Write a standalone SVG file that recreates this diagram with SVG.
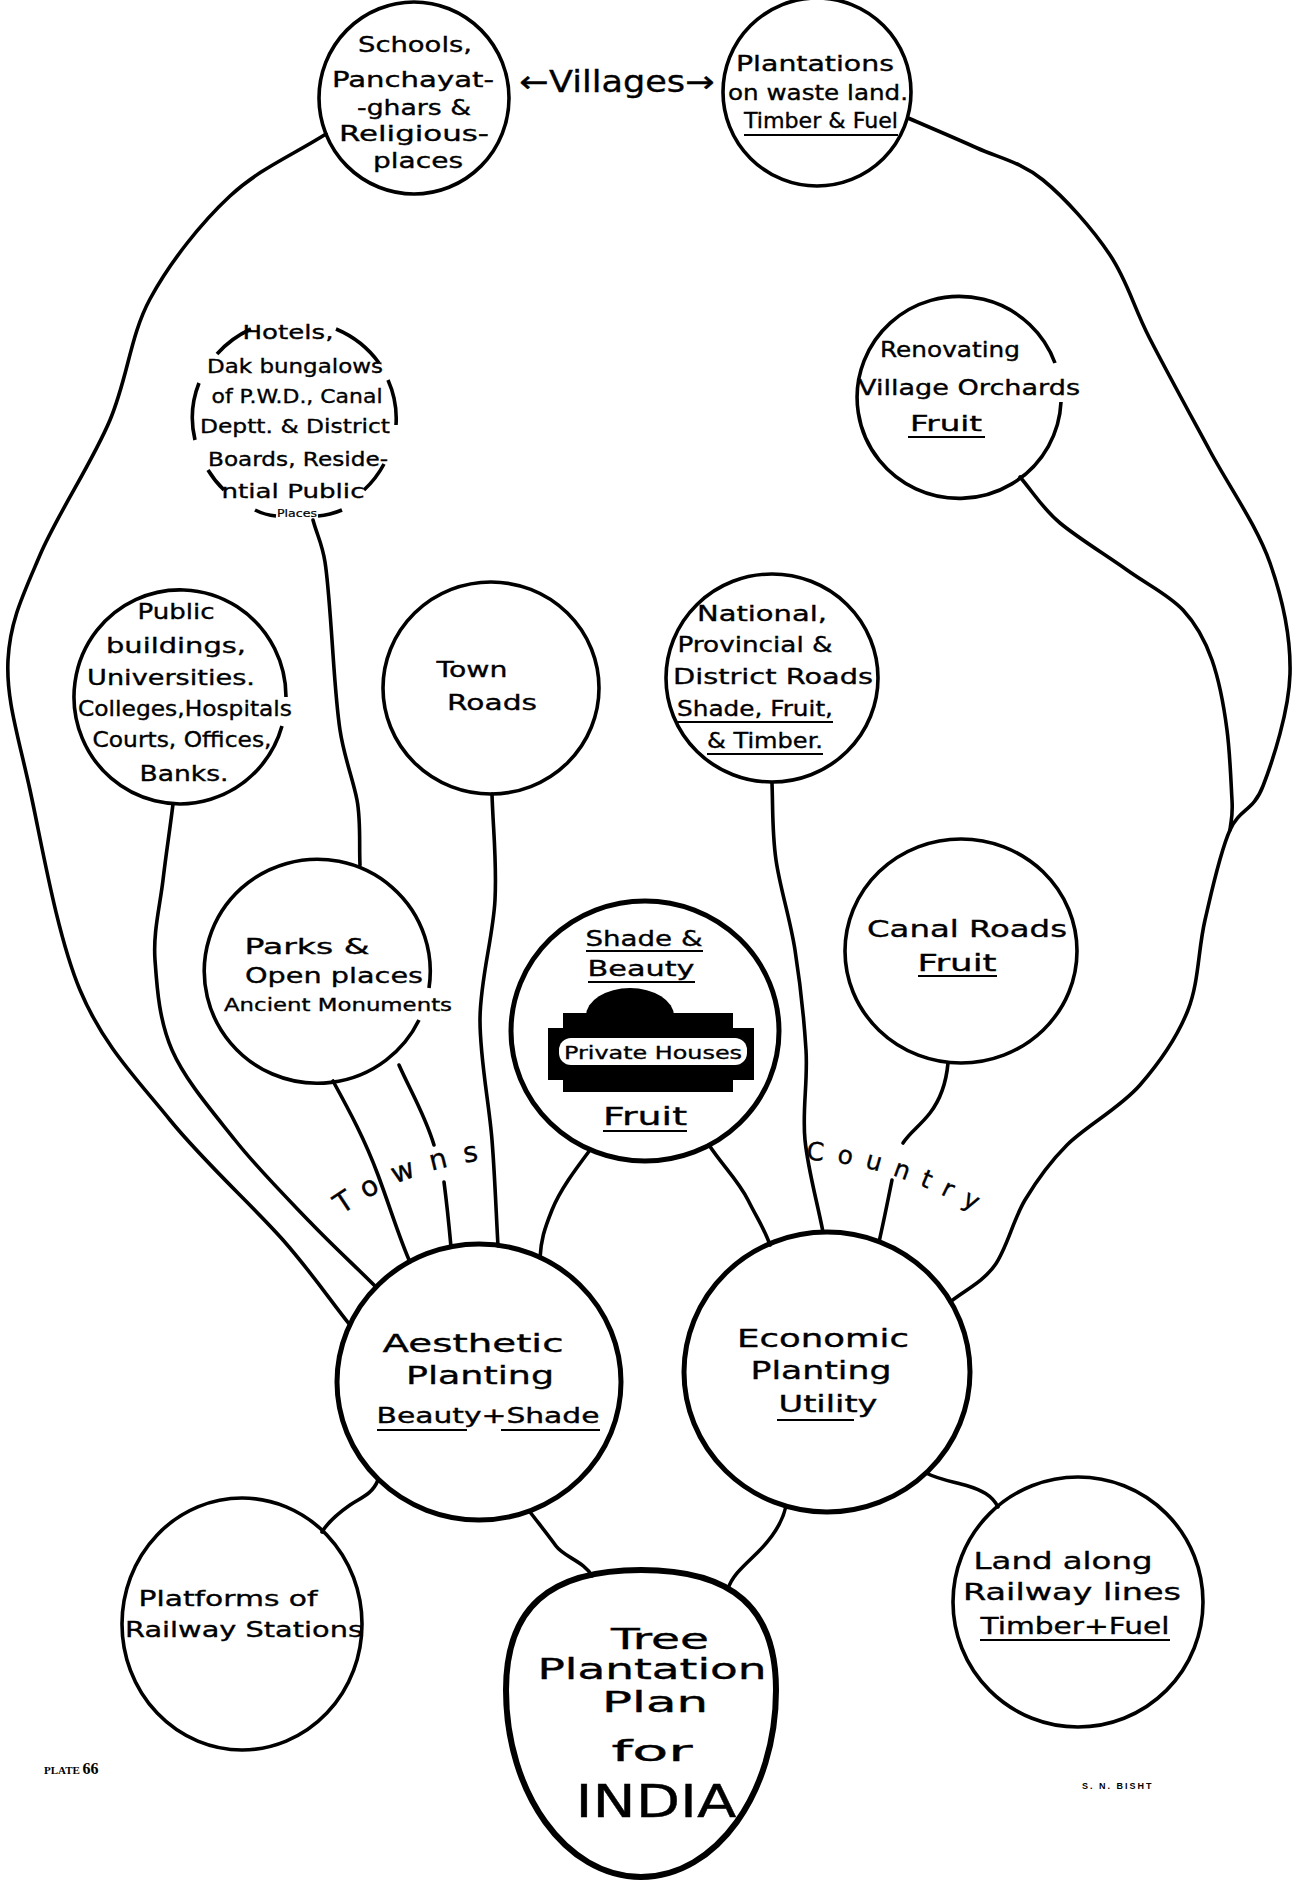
<svg xmlns="http://www.w3.org/2000/svg" width="1295" height="1881" viewBox="0 0 1295 1881">
<defs>
<style>
.n{fill:none;stroke:#000;stroke-width:3.6}
.nb{fill:none;stroke:#000;stroke-width:5}
.c{fill:none;stroke:#000;stroke-width:3.6;stroke-linecap:round}
.u{stroke:#000;stroke-width:2}
text{font-family:"DejaVu Sans",sans-serif;fill:#000;stroke:#000;stroke-width:0.35;text-anchor:middle}
.t{font-size:21px}
.s{font-size:18px}
.m{font-size:23px}
.l{font-size:25px}
.x{font-size:28px}
</style>
<path id="towns-path" d="M342,1215 Q412,1164 512,1157"/>
<path id="country-path" d="M806,1160 Q890,1162 990,1220"/>
</defs>
<rect x="0" y="0" width="1295" height="1881" fill="#fff"/>

<g id="connectors">
<path id="c-schools-aesthetic" class="c" d="M326,134 C291,156 259,169 230,196 S170,262 150,299 S128,377 110,420 S57,515 40,555 S10,621 8,660 S18,735 30,790 S57,935 80,990 S136,1078 170,1120 S254,1207 283,1240 S330,1300 350,1325"/>
<path id="c-public-aesthetic" class="c" d="M173,804 C170,829 166,854 163,880 S153,932 155,960 S159,1020 172,1050 S212,1111 235,1140 S287,1198 310,1222 S354,1265 376,1287"/>
<path id="c-hotels-parks" class="c" d="M313,520 C317,535 322,543 325,562 S330,612 332,640 S336,703 340,730 S353,779 357,800 S359,845 360,865"/>
<path id="c-parks-aesthetic-1" class="c" d="M333,1081 C350,1112 365,1140 378,1175 S400,1240 410,1262"/>
<path id="c-parks-aesthetic-2" class="c" d="M399,1065 C410,1090 425,1115 434,1145 M444,1182 C447,1205 449,1225 451,1247"/>
<path id="c-town-aesthetic" class="c" d="M492,794 C493,829 497,862 495,900 S480,980 480,1020 S489,1102 492,1140 S496,1211 498,1246"/>
<path id="c-private-aesthetic" class="c" d="M590,1150 C575,1170 560,1190 552,1210 S541,1240 540,1258"/>
<path id="c-private-economic" class="c" d="M709,1145 C722,1165 738,1180 748,1200 S765,1230 770,1245"/>
<path id="c-national-economic" class="c" d="M772,783 C773,809 772,832 776,860 S790,918 795,950 S804,1018 806,1050 S802,1110 805,1140 S817,1201 823,1232"/>
<path id="c-canal-economic" class="c" d="M948,1063 C946,1085 940,1100 930,1113 S910,1132 903,1143 M892,1180 C888,1200 884,1220 879,1242"/>
<path id="c-plantations-economic" class="c" d="M908,118 C931,128 955,138 977,148 S1021,162 1043,180 S1092,228 1110,255 S1133,306 1150,339 S1190,414 1210,451 S1257,526 1270,563 S1291,637 1290,674 S1273,760 1263,786 S1240,808 1230,830 S1212,890 1205,920 S1199,982 1188,1010 S1160,1062 1140,1085 S1086,1126 1067,1145 S1037,1180 1025,1200 S1007,1248 995,1265 S965,1290 950,1302"/>
<path id="c-orchards-economic" class="c" d="M1020,477 C1033,492 1042,508 1060,523 S1106,555 1127,570 S1169,595 1183,610 S1205,640 1212,660 S1224,707 1227,730 S1231,783 1232,800 S1231,820 1230,830"/>
<path id="c-economic-land" class="c" d="M926,1473 C940,1480 955,1482 968,1486 S992,1495 998,1507"/>
<path id="c-aesthetic-platforms" class="c" d="M378,1480 C372,1495 360,1498 350,1505 S328,1522 322,1532"/>
<path id="c-aesthetic-tree" class="c" d="M530,1512 C540,1525 548,1535 556,1546 S585,1562 592,1576"/>
<path id="c-economic-tree" class="c" d="M786,1506 C782,1525 770,1540 758,1552 S732,1575 728,1589"/>
</g>

<g id="labels">
<text style="font-size:30px" x="617" y="92" textLength="195" lengthAdjust="spacingAndGlyphs">←Villages→</text>
<text style="font-size:28px;text-anchor:start" letter-spacing="16"><textPath href="#towns-path">Towns</textPath></text>
<text style="font-size:25px;text-anchor:start" letter-spacing="13"><textPath href="#country-path">Country</textPath></text>
</g>

<g id="node-schools">
<ellipse class="n" cx="414" cy="98" rx="95" ry="96"/>
<text class="t" x="415" y="52" textLength="114" lengthAdjust="spacingAndGlyphs">Schools,</text>
<text class="t" x="413" y="87" textLength="162" lengthAdjust="spacingAndGlyphs">Panchayat-</text>
<text class="t" x="414" y="115" textLength="114" lengthAdjust="spacingAndGlyphs">-ghars &amp;</text>
<text class="t" x="414" y="141" textLength="150" lengthAdjust="spacingAndGlyphs">Religious-</text>
<text class="t" x="418" y="168" textLength="90" lengthAdjust="spacingAndGlyphs">places</text>
</g>

<g id="node-plantations">
<ellipse class="n" cx="817" cy="92" rx="94" ry="94"/>
<text class="t" x="815" y="71" textLength="158" lengthAdjust="spacingAndGlyphs">Plantations</text>
<text class="t" x="818" y="100" textLength="180" lengthAdjust="spacingAndGlyphs">on waste land.</text>
<text class="t" x="821" y="128" textLength="154" lengthAdjust="spacingAndGlyphs">Timber &amp; Fuel</text>
<line class="u" x1="744" y1="135" x2="898" y2="135"/>
</g>

<g id="node-hotels">
<path class="n" d="M195,440 A102,98 0 0,1 199,383 M217,354 A102,98 0 0,1 251,329 M336,329 A102,98 0 0,1 379,363 M388,380 A102,98 0 0,1 396,425 M384,464 A102,98 0 0,1 364,490 M224,490 A102,98 0 0,1 208,470 M255,510 Q265,515 276,516 M318,516 Q330,515 342,510"/>
<text class="t" style="font-size:20px" x="288" y="339" textLength="91" lengthAdjust="spacingAndGlyphs">Hotels,</text>
<text class="t" style="font-size:20px" x="295" y="373" textLength="176" lengthAdjust="spacingAndGlyphs">Dak bungalows</text>
<text class="t" style="font-size:20px" x="297" y="403" textLength="171" lengthAdjust="spacingAndGlyphs">of P.W.D., Canal</text>
<text class="t" style="font-size:20px" x="295" y="433" textLength="190" lengthAdjust="spacingAndGlyphs">Deptt. &amp; District</text>
<text class="t" style="font-size:20px" x="298" y="466" textLength="180" lengthAdjust="spacingAndGlyphs">Boards, Reside-</text>
<text class="t" style="font-size:20px" x="293" y="498" textLength="143" lengthAdjust="spacingAndGlyphs">ntial Public</text>
<text style="font-size:10px;stroke-width:0.2" x="297" y="517" textLength="40" lengthAdjust="spacingAndGlyphs">Places</text>
</g>

<g id="node-orchards">
<path class="n" d="M1061,402 A102,101 0 1,1 1055,363"/>
<text class="t" x="950" y="357" textLength="140" lengthAdjust="spacingAndGlyphs">Renovating</text>
<text class="t" x="969" y="395" textLength="222" lengthAdjust="spacingAndGlyphs">Village Orchards</text>
<text class="t" x="946" y="431" textLength="72" lengthAdjust="spacingAndGlyphs">Fruit</text>
<line class="u" x1="908" y1="437" x2="985" y2="437"/>
</g>

<g id="node-public">
<path class="n" d="M282,726 A106,107 0 1,1 286,697"/>
<text class="t" x="176" y="619" textLength="77" lengthAdjust="spacingAndGlyphs">Public</text>
<text class="t" x="176" y="653" textLength="140" lengthAdjust="spacingAndGlyphs">buildings,</text>
<text class="t" x="171" y="685" textLength="168" lengthAdjust="spacingAndGlyphs">Universities.</text>
<text class="t" x="185" y="716" textLength="214" lengthAdjust="spacingAndGlyphs">Colleges,Hospitals</text>
<text class="t" x="182" y="747" textLength="179" lengthAdjust="spacingAndGlyphs">Courts, Offices,</text>
<text class="t" x="184" y="781" textLength="89" lengthAdjust="spacingAndGlyphs">Banks.</text>
</g>

<g id="node-town">
<ellipse class="n" cx="491" cy="688" rx="108" ry="106"/>
<text class="t" style="font-size:22px" x="472" y="677" textLength="71" lengthAdjust="spacingAndGlyphs">Town</text>
<text class="t" style="font-size:22px" x="492" y="710" textLength="90" lengthAdjust="spacingAndGlyphs">Roads</text>
</g>

<g id="node-national">
<ellipse class="n" cx="772" cy="678" rx="106" ry="104"/>
<text class="t" x="762" y="621" textLength="130" lengthAdjust="spacingAndGlyphs">National,</text>
<text class="t" x="755" y="652" textLength="155" lengthAdjust="spacingAndGlyphs">Provincial &amp;</text>
<text class="t" x="773" y="684" textLength="200" lengthAdjust="spacingAndGlyphs">District Roads</text>
<text class="t" x="755" y="716" textLength="156" lengthAdjust="spacingAndGlyphs">Shade, Fruit,</text>
<line class="u" x1="677" y1="722" x2="833" y2="722"/>
<text class="t" x="765" y="748" textLength="116" lengthAdjust="spacingAndGlyphs">&amp; Timber.</text>
<line class="u" x1="707" y1="754" x2="823" y2="754"/>
</g>

<g id="node-parks">
<path class="n" d="M419,1020 A113,112 0 1,1 429,988"/>
<text class="t" style="font-size:22px" x="307" y="954" textLength="125" lengthAdjust="spacingAndGlyphs">Parks &amp;</text>
<text class="t" style="font-size:22px" x="334" y="983" textLength="178" lengthAdjust="spacingAndGlyphs">Open places</text>
<text class="s" x="338" y="1011" textLength="228" lengthAdjust="spacingAndGlyphs">Ancient Monuments</text>
</g>

<g id="node-private">
<ellipse class="nb" cx="645" cy="1031" rx="134" ry="130"/>
<text class="t" style="font-size:22px" x="644" y="946" textLength="117" lengthAdjust="spacingAndGlyphs">Shade &amp;</text>
<line class="u" x1="586" y1="951" x2="703" y2="951"/>
<text class="t" style="font-size:22px" x="641" y="976" textLength="107" lengthAdjust="spacingAndGlyphs">Beauty</text>
<line class="u" x1="588" y1="982" x2="695" y2="982"/>
<path d="M586,1016 A44,28 0 0,1 674,1016 Z" fill="#000"/>
<rect x="563" y="1013" width="170" height="79" fill="#000"/>
<rect x="548" y="1028" width="206" height="52" fill="#000"/>
<rect x="559" y="1038" width="188" height="27" rx="12" fill="#fff"/>
<text class="s" x="653" y="1059" textLength="178" lengthAdjust="spacingAndGlyphs">Private Houses</text>
<text class="t" style="font-size:24px" x="645" y="1125" textLength="84" lengthAdjust="spacingAndGlyphs">Fruit</text>
<line class="u" x1="603" y1="1131" x2="687" y2="1131"/>
</g>

<g id="node-canal">
<ellipse class="n" cx="961" cy="951" rx="116" ry="112"/>
<text class="m" x="967" y="937" textLength="200" lengthAdjust="spacingAndGlyphs">Canal Roads</text>
<text class="m" x="957" y="971" textLength="79" lengthAdjust="spacingAndGlyphs">Fruit</text>
<line class="u" x1="918" y1="976" x2="997" y2="976"/>
</g>

<g id="node-aesthetic">
<ellipse class="nb" cx="479" cy="1382" rx="142" ry="138"/>
<text class="l" x="473" y="1352" textLength="181" lengthAdjust="spacingAndGlyphs">Aesthetic</text>
<text class="l" x="480" y="1384" textLength="148" lengthAdjust="spacingAndGlyphs">Planting</text>
<text style="font-size:21px" x="488" y="1423" textLength="223" lengthAdjust="spacingAndGlyphs">Beauty+Shade</text>
<line class="u" x1="377" y1="1430" x2="467" y2="1430"/>
<line class="u" x1="501" y1="1430" x2="600" y2="1430"/>
</g>

<g id="node-economic">
<ellipse class="nb" cx="827" cy="1372" rx="143" ry="140"/>
<text style="font-size:25px" x="823" y="1347" textLength="172" lengthAdjust="spacingAndGlyphs">Economic</text>
<text style="font-size:25px" x="821" y="1379" textLength="141" lengthAdjust="spacingAndGlyphs">Planting</text>
<text style="font-size:23px" x="828" y="1412" textLength="99" lengthAdjust="spacingAndGlyphs">Utility</text>
<line class="u" x1="777" y1="1420" x2="854" y2="1420"/>
</g>

<g id="node-platforms">
<ellipse class="n" cx="242" cy="1624" rx="120" ry="126"/>
<text class="t" style="font-size:22px" x="228" y="1606" textLength="179" lengthAdjust="spacingAndGlyphs">Platforms of</text>
<text class="t" style="font-size:22px" x="244" y="1637" textLength="238" lengthAdjust="spacingAndGlyphs">Railway Stations</text>
</g>

<g id="node-tree">
<path style="fill:none;stroke:#000;stroke-width:6" d="M641,1570 C733,1570 776,1608 776,1690 C776,1793 716,1877 641,1877 C566,1877 506,1793 506,1690 C506,1608 549,1570 641,1570 Z"/>
<text class="x" x="660" y="1649" textLength="98" lengthAdjust="spacingAndGlyphs">Tree</text>
<text class="x" x="652" y="1679" textLength="229" lengthAdjust="spacingAndGlyphs">Plantation</text>
<text class="x" x="655" y="1712" textLength="106" lengthAdjust="spacingAndGlyphs">Plan</text>
<text class="x" x="652" y="1761" textLength="81" lengthAdjust="spacingAndGlyphs">for</text>
<text style="font-size:44px" x="656" y="1817" textLength="161" lengthAdjust="spacingAndGlyphs">INDIA</text>
</g>

<g id="node-land">
<ellipse class="n" cx="1078" cy="1602" rx="125" ry="125"/>
<text class="m" x="1063" y="1569" textLength="179" lengthAdjust="spacingAndGlyphs">Land along</text>
<text class="m" x="1072" y="1600" textLength="218" lengthAdjust="spacingAndGlyphs">Railway lines</text>
<text class="m" x="1075" y="1634" textLength="189" lengthAdjust="spacingAndGlyphs">Timber+Fuel</text>
<line class="u" x1="980" y1="1640" x2="1170" y2="1640"/>
</g>

<g id="footer">
<text style="font-family:'Liberation Serif',serif;font-weight:bold;font-size:11px;text-anchor:start;stroke-width:0" x="44" y="1774">PLATE <tspan style="font-size:16px">66</tspan></text>
<text style="font-family:'Liberation Sans',sans-serif;font-weight:bold;font-size:9px;text-anchor:start;stroke-width:0" x="1082" y="1789" letter-spacing="2">S. N. BISHT</text>
</g>
</svg>
